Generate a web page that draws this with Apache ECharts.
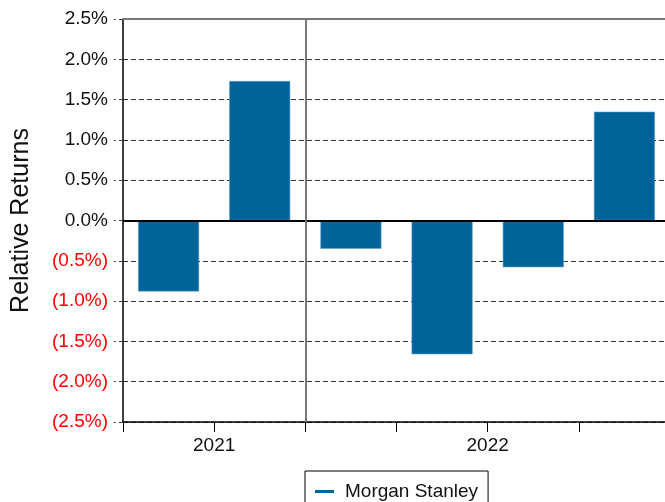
<!DOCTYPE html>
<html>
<head>
<meta charset="utf-8">
<script src="https://cdn.jsdelivr.net/npm/echarts@6/dist/echarts.min.js"></script>
<style>
  html, body { margin: 0; padding: 0; background: #fff; overflow: hidden; }
  /* the plot area runs a few pixels past the right edge of the window */
  #chart { width: 670px; height: 502px; }
</style>
</head>
<body>
<div id="chart"></div>
<script>
// Quarterly relative returns (%)
const categories = ['3Q21', '4Q21', '1Q22', '2Q22', '3Q22', '4Q22'];
const relativeReturns = [-0.88, 1.73, -0.35, -1.66, -0.58, 1.35];
const seriesName = 'Morgan Stanley';
// Year groups: label and number of quarters in each group
const yearGroups = ['2021', '2022'];
const yearSpans = [2, 4];
// Y-axis tick range
const yMin = -2.5, yMax = 2.5, yStep = 0.5;

const FONT = '"Liberation Sans", Arial, sans-serif';
const BAR = '#00649b';

// Centre of each year group and the boundaries between groups, in category units
const yearCentres = {};
const yearBounds = [];
let acc = 0;
yearSpans.forEach((s, i) => {
  yearCentres[acc + s / 2] = yearGroups[i];
  acc += s;
  if (i < yearSpans.length - 1) yearBounds.push(acc);
});

function fmtPct(v) {
  const a = Math.abs(v).toFixed(1) + '%';
  return v < 0 ? '(' + a + ')' : a;
}

const chart = echarts.init(document.getElementById('chart'), null, { renderer: 'canvas' });
chart.setOption({
  animation: false,
  backgroundColor: '#fff',
  textStyle: { fontFamily: FONT },
  grid: { left: 123, right: 0, top: 19, bottom: 80, containLabel: false },
  legend: {
    data: [seriesName],
    left: 305,
    top: 471,
    icon: 'rect',
    itemWidth: 19,
    itemHeight: 3,
    itemStyle: { borderWidth: 0, color: BAR },
    padding: [11, 10, 12, 10],
    borderColor: '#000',
    borderWidth: 1,
    textStyle: { fontFamily: FONT, fontSize: 19, color: '#111', padding: [0, 0, 0, 6] }
  },
  xAxis: [
    {
      type: 'category',
      data: categories,
      position: 'bottom',
      axisLine: { show: true, onZero: false, lineStyle: { color: '#000', width: 1.5 } },
      axisTick: { show: true, length: 10, lineStyle: { color: '#000', width: 1 } },
      axisLabel: { show: false },
      splitLine: { show: false }
    },
    {
      type: 'value',
      min: 0,
      max: categories.length,
      interval: 0.5,
      position: 'bottom',
      axisLine: { show: false, onZero: false },
      axisTick: { show: false },
      splitLine: { show: false },
      axisLabel: {
        margin: 14,
        fontFamily: FONT,
        fontSize: 19,
        color: '#111',
        showMinLabel: false,
        showMaxLabel: false,
        formatter: v => yearCentres[v] || ''
      }
    }
  ],
  yAxis: {
    type: 'value',
    min: yMin,
    max: yMax,
    interval: yStep,
    name: 'Relative Returns',
    nameLocation: 'middle',
    nameGap: 89,
    nameTextStyle: { fontFamily: FONT, fontSize: 25, color: '#111' },
    axisLine: { show: true, onZero: false, lineStyle: { color: '#000', width: 1.5 } },
    axisTick: { show: true, length: 9, lineStyle: { color: '#444', type: [4, 3] } },
    axisLabel: {
      margin: 15,
      fontFamily: FONT,
      fontSize: 19,
      color: v => (v < 0 ? '#ff0000' : '#111'),
      formatter: fmtPct
    },
    splitLine: { show: true, lineStyle: { color: '#333', width: 1, type: [5, 3] } }
  },
  series: [
    {
      name: seriesName,
      type: 'bar',
      xAxisIndex: 0,
      data: relativeReturns,
      barWidth: 61,
      itemStyle: { color: BAR, borderColor: '#5a9cc4', borderWidth: 0.6 },
      markLine: {
        silent: true,
        symbol: 'none',
        label: { show: false },
        data: [
          { yAxis: 0, lineStyle: { color: '#000', width: 2, type: 'solid' } },
          { yAxis: yMax, lineStyle: { color: '#777', width: 2, type: 'solid' } }
        ]
      },
      z: 2
    },
    {
      // Separators between year groups
      type: 'line',
      xAxisIndex: 1,
      data: yearBounds.map(b => [b, 0]),
      showSymbol: false,
      symbol: 'none',
      lineStyle: { width: 0 },
      silent: true,
      markLine: {
        silent: true,
        symbol: 'none',
        label: { show: false },
        lineStyle: { color: '#777', width: 2, type: 'solid' },
        data: yearBounds.map(b => ({ xAxis: b }))
      },
      z: 3
    }
  ]
});
</script>
</body>
</html>
